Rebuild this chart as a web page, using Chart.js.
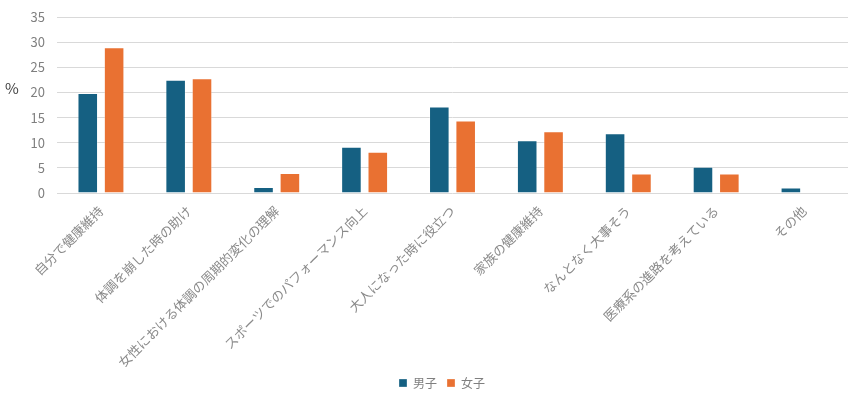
<!DOCTYPE html>
<html>
<head>
<meta charset="utf-8">
<script src="https://cdn.jsdelivr.net/npm/chart.js@4"></script>
<style>
html,body{margin:0;padding:0;background:#fff;}
#wrap{width:850px;height:396px;position:relative;}
</style>
</head>
<body>
<div id="wrap"><canvas id="c"></canvas></div>
<script>
const categories = ["自分で健康維持","体調を崩した時の助け","女性における体調の周期的変化の理解","スポーツでのパフォーマンス向上","大人になった時に役立つ","家族の健康維持","なんとなく大事そう","医療系の進路を考えている","その他"];
const boys = [19.9, 22.5, 1.2, 9.2, 17.2, 10.5, 11.9, 5.2, 1.1];
const girls = [29.0, 22.8, 4.0, 8.2, 14.4, 12.3, 3.9, 3.9, 0];
const seriesNames = ["男子","女子"];
const yTicks = [0,5,10,15,20,25,30,35];
const yTitle = "%";

const FONT = "'Noto Sans CJK JP','Noto Sans',sans-serif";

const yTitlePlugin = {
  id: 'yTitle',
  afterLayout(chart){
    const l = chart.legend;
    if (l) { l.left += 18; l.right += 18; }
  },
  afterDraw(chart){
    const ctx = chart.ctx;
    ctx.save();
    ctx.font = "15px " + FONT;
    ctx.fillStyle = "#404040";
    ctx.textAlign = "left";
    ctx.textBaseline = "middle";
    ctx.fillText(yTitle, 5, 88);
    ctx.restore();
  }
};

new Chart(document.getElementById('c'), {
  type: 'bar',
  data: {
    labels: categories,
    datasets: [
      {label: seriesNames[0], data: boys, backgroundColor: '#156082', borderColor: 'rgba(255,255,255,0.3)', borderWidth: 1},
      {label: seriesNames[1], data: girls, backgroundColor: '#E97132', borderColor: 'rgba(255,255,255,0.3)', borderWidth: 1}
    ]
  },
  plugins: [yTitlePlugin],
  options: {
    responsive: true,
    maintainAspectRatio: false,
    animation: false,
    devicePixelRatio: 1,
    categoryPercentage: 0.6,
    barPercentage: 0.78,
    layout: {padding: {top: 17, right: 2, left: 0, bottom: -3}},
    plugins: {
      legend: {
        position: 'bottom',
        labels: {boxWidth: 8, boxHeight: 8, padding: 10, color: '#7f7f7f', font: {family: FONT, size: 12}}
      },
      tooltip: {enabled: false}
    },
    scales: {
      x: {
        grid: {display: false},
        border: {display: false},
        ticks: {color: '#8a8a8a', font: {family: FONT, size: 13}, maxRotation: 45, minRotation: 45, autoSkip: false, padding: 2},
        afterFit(scale){ scale.height = 174; scale.paddingTop = 0; scale.paddingBottom = 0; }
      },
      y: {
        min: 0, max: 35,
        afterBuildTicks(scale){ scale.ticks = yTicks.map(v => ({value: v})); },
        grid: {color: '#d9d9d9', drawTicks: false},
        border: {display: false},
        ticks: {color: '#7f7f7f', font: {family: FONT, size: 13}, padding: 12},
        afterFit(scale){ scale.width = 57; scale.paddingTop = 0; scale.paddingBottom = 0; }
      }
    }
  }
});
</script>
</body>
</html>
